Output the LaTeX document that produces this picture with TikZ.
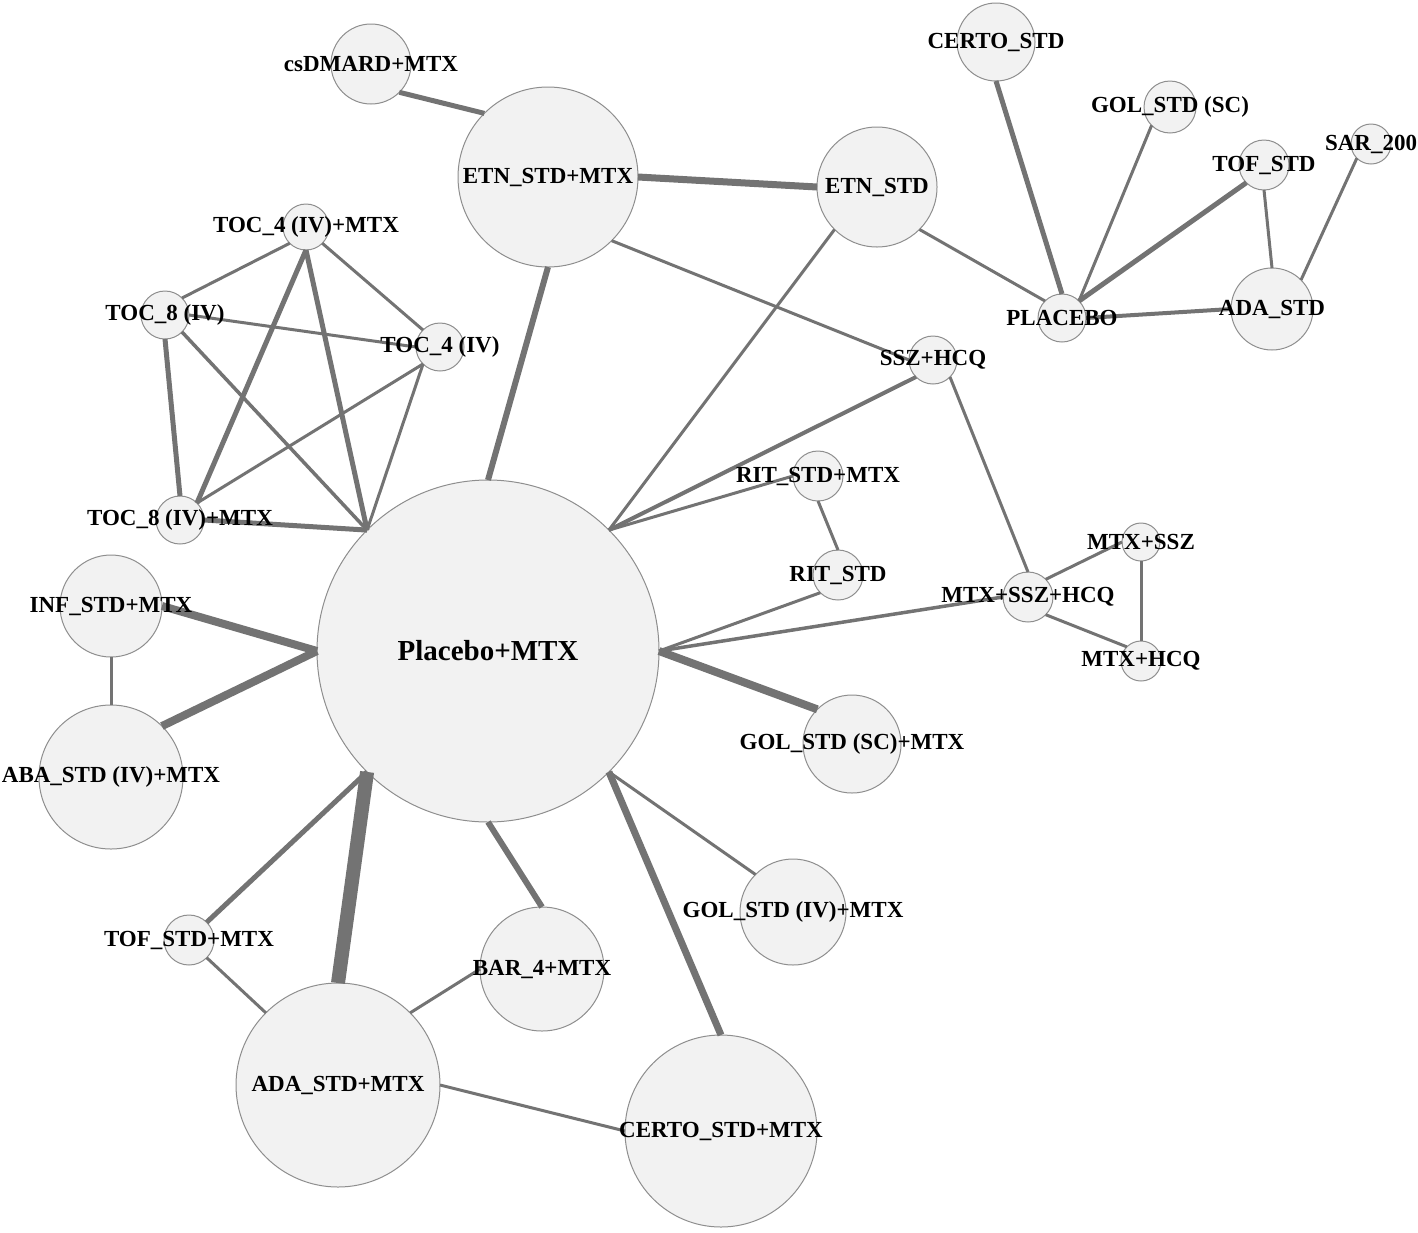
\documentclass[tikz,border=0pt]{standalone}
\usepackage{fontspec}
\setmainfont{Liberation Serif}
\definecolor{nodefill}{HTML}{F2F2F2}
\definecolor{nodeline}{HTML}{8E8E8E}
\definecolor{edgegray}{HTML}{737373}
\begin{document}
\begin{tikzpicture}[x=1pt,y=-1pt,
    trt/.style={circle,draw=nodeline,fill=nodefill,line width=1pt,inner sep=0pt,outer sep=0pt,minimum size=#1pt},
    lbl/.style={inner sep=0pt,font=\bfseries\fontsize{23}{27}\selectfont},
    cmp/.style={draw=edgegray,line width=#1pt}]
    \useasboundingbox (0,0) rectangle (1418,1232);
    \node [trt=80] (csdmard) at (371,64) {};
    \node [trt=180] (etnmtx) at (548,177) {};
    \node [trt=120] (etn) at (877,187) {};
    \node [trt=78] (certo) at (996,42) {};
    \node [trt=52] (golsc) at (1170,107) {};
    \node [trt=50] (tof) at (1264,165) {};
    \node [trt=40] (sar) at (1371,144) {};
    \node [trt=48] (placebo) at (1062,318) {};
    \node [trt=82] (ada) at (1272,309) {};
    \node [trt=48] (sszhcq) at (933,360) {};
    \node [trt=46] (toc4mtx) at (306,227) {};
    \node [trt=48] (toc8) at (165,315) {};
    \node [trt=48] (toc4) at (440,347) {};
    \node [trt=48] (toc8mtx) at (180,520) {};
    \node [trt=50] (ritmtx) at (818,476) {};
    \node [trt=50] (rit) at (838,575) {};
    \node [trt=38] (mtxssz) at (1141,542) {};
    \node [trt=50] (mtxsszhcq) at (1028,597) {};
    \node [trt=40] (mtxhcq) at (1141,661) {};
    \node [trt=342] (pbomtx) at (488,651) {};
    \node [trt=102] (infmtx) at (111,606) {};
    \node [trt=144] (abamtx) at (111,777) {};
    \node [trt=98] (golscmtx) at (852,744) {};
    \node [trt=106] (golivmtx) at (793,912) {};
    \node [trt=50] (tofmtx) at (189,940) {};
    \node [trt=124] (bar) at (542,969) {};
    \node [trt=204] (adamtx) at (338,1085) {};
    \node [trt=192] (certomtx) at (721,1131) {};
    \draw [cmp=5] (csdmard.south east) -- (etnmtx.north west);
    \draw [cmp=7] (etnmtx.east) -- (etn.west);
    \draw [cmp=3] (etnmtx.south east) -- (sszhcq.west);
    \draw [cmp=6] (etnmtx.south) -- (pbomtx.north);
    \draw [cmp=3] (etn.south east) -- (placebo.north west);
    \draw [cmp=3] (etn.south west) -- (pbomtx.north east);
    \draw [cmp=5] (certo.south) -- (placebo.north);
    \draw [cmp=3] (golsc.south west) -- (placebo.north east);
    \draw [cmp=5] (tof.south west) -- (placebo.north east);
    \draw [cmp=3] (tof.south) -- (ada.north);
    \draw [cmp=3] (sar.south west) -- (ada.north east);
    \draw [cmp=4] (placebo.east) -- (ada.west);
    \draw [cmp=4] (sszhcq.south west) -- (pbomtx.north east);
    \draw [cmp=3] (sszhcq.south east) -- (mtxsszhcq.north);
    \draw [cmp=3] (ritmtx.west) -- (pbomtx.north east);
    \draw [cmp=3] (ritmtx.south) -- (rit.north);
    \draw [cmp=3] (rit.south west) -- (pbomtx.east);
    \draw [cmp=3.5] (mtxsszhcq.west) -- (pbomtx.east);
    \draw [cmp=3] (mtxsszhcq.north east) -- (mtxssz.west);
    \draw [cmp=3] (mtxsszhcq.south east) -- (mtxhcq.north west);
    \draw [cmp=3] (mtxssz.south) -- (mtxhcq.north);
    \draw [cmp=3] (toc4mtx.south west) -- (toc8.north east);
    \draw [cmp=3] (toc4mtx.south east) -- (toc4.north west);
    \draw [cmp=5] (toc4mtx.south) -- (toc8mtx.north east);
    \draw [cmp=5] (toc4mtx.south) -- (pbomtx.north west);
    \draw [cmp=3] (toc8.east) -- (toc4.west);
    \draw [cmp=5] (toc8.south) -- (toc8mtx.north);
    \draw [cmp=3.5] (toc8.south east) -- (pbomtx.north west);
    \draw [cmp=3] (toc4.south west) -- (toc8mtx.north east);
    \draw [cmp=3] (toc4.south west) -- (pbomtx.north west);
    \draw [cmp=5] (toc8mtx.east) -- (pbomtx.north west);
    \draw [cmp=8] (infmtx.east) -- (pbomtx.west);
    \draw [cmp=3] (infmtx.south) -- (abamtx.north);
    \draw [cmp=8] (abamtx.north east) -- (pbomtx.west);
    \draw [cmp=8] (golscmtx.north west) -- (pbomtx.east);
    \draw [cmp=3] (golivmtx.north west) -- (pbomtx.south east);
    \draw [cmp=5] (tofmtx.north east) -- (pbomtx.south west);
    \draw [cmp=3] (tofmtx.south east) -- (adamtx.north west);
    \draw [cmp=6] (bar.north) -- (pbomtx.south);
    \draw [cmp=3] (bar.west) -- (adamtx.north east);
    \draw [cmp=14] (adamtx.north) -- (pbomtx.south west);
    \draw [cmp=3] (adamtx.east) -- (certomtx.west);
    \draw [cmp=7] (certomtx.north) -- (pbomtx.south east);
    \node [lbl] (csdmard-t) at (csdmard) {csDMARD+MTX};
    \node [lbl] (etnmtx-t) at (etnmtx) {ETN\_STD+MTX};
    \node [lbl] (etn-t) at (etn) {ETN\_STD};
    \node [lbl] (certo-t) at (certo) {CERTO\_STD};
    \node [lbl] (golsc-t) at (golsc) {GOL\_STD (SC)};
    \node [lbl] (tof-t) at (tof) {TOF\_STD};
    \node [lbl] (sar-t) at (sar) {SAR\_200};
    \node [lbl] (placebo-t) at (placebo) {PLACEBO};
    \node [lbl] (ada-t) at (ada) {ADA\_STD};
    \node [lbl] (sszhcq-t) at (sszhcq) {SSZ+HCQ};
    \node [lbl] (toc4mtx-t) at (toc4mtx) {TOC\_4 (IV)+MTX};
    \node [lbl] (toc8-t) at (toc8) {TOC\_8 (IV)};
    \node [lbl] (toc4-t) at (toc4) {TOC\_4 (IV)};
    \node [lbl] (toc8mtx-t) at (toc8mtx) {TOC\_8 (IV)+MTX};
    \node [lbl] (ritmtx-t) at (ritmtx) {RIT\_STD+MTX};
    \node [lbl] (rit-t) at (rit) {RIT\_STD};
    \node [lbl] (mtxssz-t) at (mtxssz) {MTX+SSZ};
    \node [lbl] (mtxsszhcq-t) at (mtxsszhcq) {MTX+SSZ+HCQ};
    \node [lbl] (mtxhcq-t) at (mtxhcq) {MTX+HCQ};
    \node [lbl,font=\bfseries\fontsize{29}{34}\selectfont] (pbomtx-t) at (pbomtx) {Placebo+MTX};
    \node [lbl] (infmtx-t) at (infmtx) {INF\_STD+MTX};
    \node [lbl] (abamtx-t) at (abamtx) {ABA\_STD (IV)+MTX};
    \node [lbl] (golscmtx-t) at (golscmtx) {GOL\_STD (SC)+MTX};
    \node [lbl] (golivmtx-t) at (golivmtx) {GOL\_STD (IV)+MTX};
    \node [lbl] (tofmtx-t) at (tofmtx) {TOF\_STD+MTX};
    \node [lbl] (bar-t) at (bar) {BAR\_4+MTX};
    \node [lbl] (adamtx-t) at (adamtx) {ADA\_STD+MTX};
    \node [lbl] (certomtx-t) at (certomtx) {CERTO\_STD+MTX};
\end{tikzpicture}
\end{document}
